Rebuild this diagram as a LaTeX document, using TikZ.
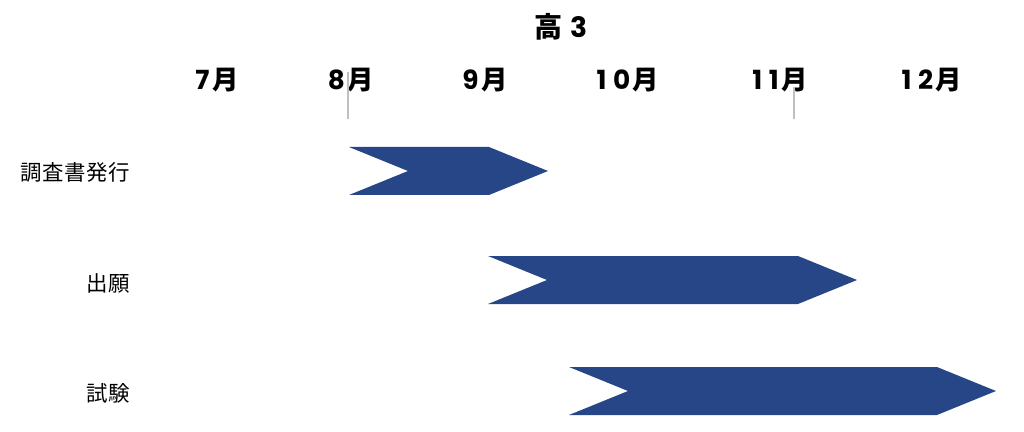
\documentclass[tikz,border=0pt]{standalone}
\usepackage{fontspec}
\newfontfamily\jp{Noto Sans CJK JP}
\newfontfamily\popb{Poppins}[LetterSpace=25,BoldFeatures={LetterSpace=25}]
\definecolor{chevblue}{RGB}{38,70,136}
\tikzset{
  month/.style={font=\fontsize{15}{15}\selectfont\bfseries},
  rowlab/.style={font=\jp\fontsize{12.2}{13}\selectfont, anchor=east, inner sep=0pt},
  tick/.style={draw=black!25, line width=0.6pt},
  chev/.style={fill=chevblue}
}
\begin{document}
\begin{tikzpicture}[x=0.02cm,y=-0.02cm,line join=round]
\useasboundingbox (0,0) rectangle (1024,432);
% title
\node[month, font=\jp\fontsize{16}{16}\selectfont\bfseries] (title) at (561,27) {高\kern5pt{\popb 3}};
% month labels
\foreach \m/\x in {7/217,8/351,9/485,10/628,11/780,12/932}{
  \node[month] (m\m) at (\x,80) {{\popb\bfseries \m}\kern1.5pt{\jp\bfseries 月}};
}
% tick lines
\draw[tick] (348,72)--(348,119);
\draw[tick] (794,87)--(794,119);
% row labels
\node[rowlab] (r1) at (130,172) {調\kern0.3pt査\kern0.3pt書\kern0.3pt発\kern0.3pt行};
\node[rowlab] (r2) at (130,283) {出\kern0.3pt願};
\node[rowlab] (r3) at (130,393) {試\kern0.3pt験};
% chevrons
\foreach \xa/\xb/\yc in {349/489/171, 488/798/280, 569/937/391}{
  \fill[chev] (\xa,\yc-24)--(\xb,\yc-24)--(\xb+59,\yc)--(\xb,\yc+24)--(\xa,\yc+24)--(\xa+59,\yc)--cycle;
}
\end{tikzpicture}
\end{document}
